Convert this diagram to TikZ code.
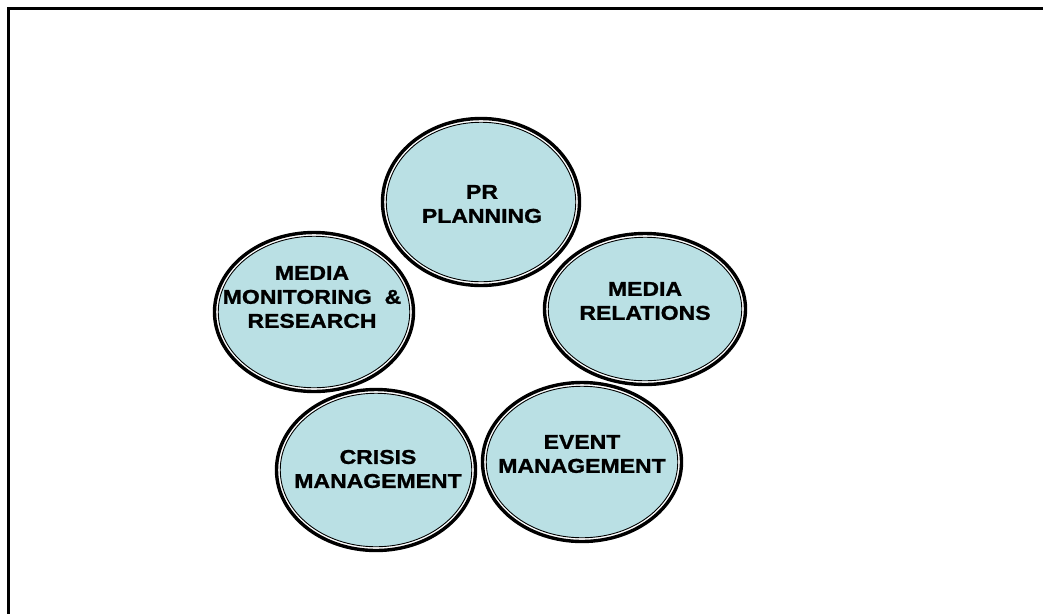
\documentclass[tikz,border=0pt]{standalone}
\usepackage{fontspec}
\usepackage{tikz}
\usetikzlibrary{shapes.geometric}
\newfontfamily\labelfont[FakeStretch=1.15, FakeBold=1.2]{Liberation Sans Bold}
\definecolor{bubblecol}{RGB}{186,224,228}
\tikzset{
	bubble/.style={ellipse, inner sep=0pt, fill=white, draw=black, line width=3.4pt},
	rim/.style={ellipse, inner sep=0pt, fill=bubblecol, draw=black, line width=0.9pt},
	bubbletext/.style={align=center, inner sep=0pt, font=\labelfont\fontsize{20}{24}\selectfont}
}
\newcommand{\bubble}[4]{%
	\node[bubble, minimum width=#3, minimum height=#4] (#1) at (#2) {};
	\node[rim, minimum width=#3-7.5pt, minimum height=#4-7.5pt] (#1 rim) at (#1) {};
}
\begin{document}
\begin{tikzpicture}[x=1pt,y=-1pt]
	%\draw[help lines] (0,0) grid[step=50] (1043,614);
	\useasboundingbox (0,0) rectangle (1043,614);
	\draw[line width=3pt] (1043,8.5) -- (8.5,8.5) -- (8.5,614);
	\bubble{pr}{481,202}{197pt}{167pt}
	\bubble{mr}{645,309}{201pt}{151pt}
	\bubble{ev}{582,462}{199pt}{159pt}
	\bubble{cr}{376,470}{199pt}{161pt}
	\bubble{mm}{314,312}{199pt}{159pt}
	\node[bubbletext] (pr text) at (482,204) {PR\\PLANNING};
	\node[bubbletext] (mr text) at (645,301) {MEDIA\\RELATIONS};
	\node[bubbletext] (ev text) at (582,454) {EVENT\\MANAGEMENT};
	\node[bubbletext] (cr text) at (378,469) {CRISIS\\MANAGEMENT};
	\node[bubbletext] (mm text) at (312,297) {MEDIA\\MONITORING \ \&\\RESEARCH};
\end{tikzpicture}
\end{document}
